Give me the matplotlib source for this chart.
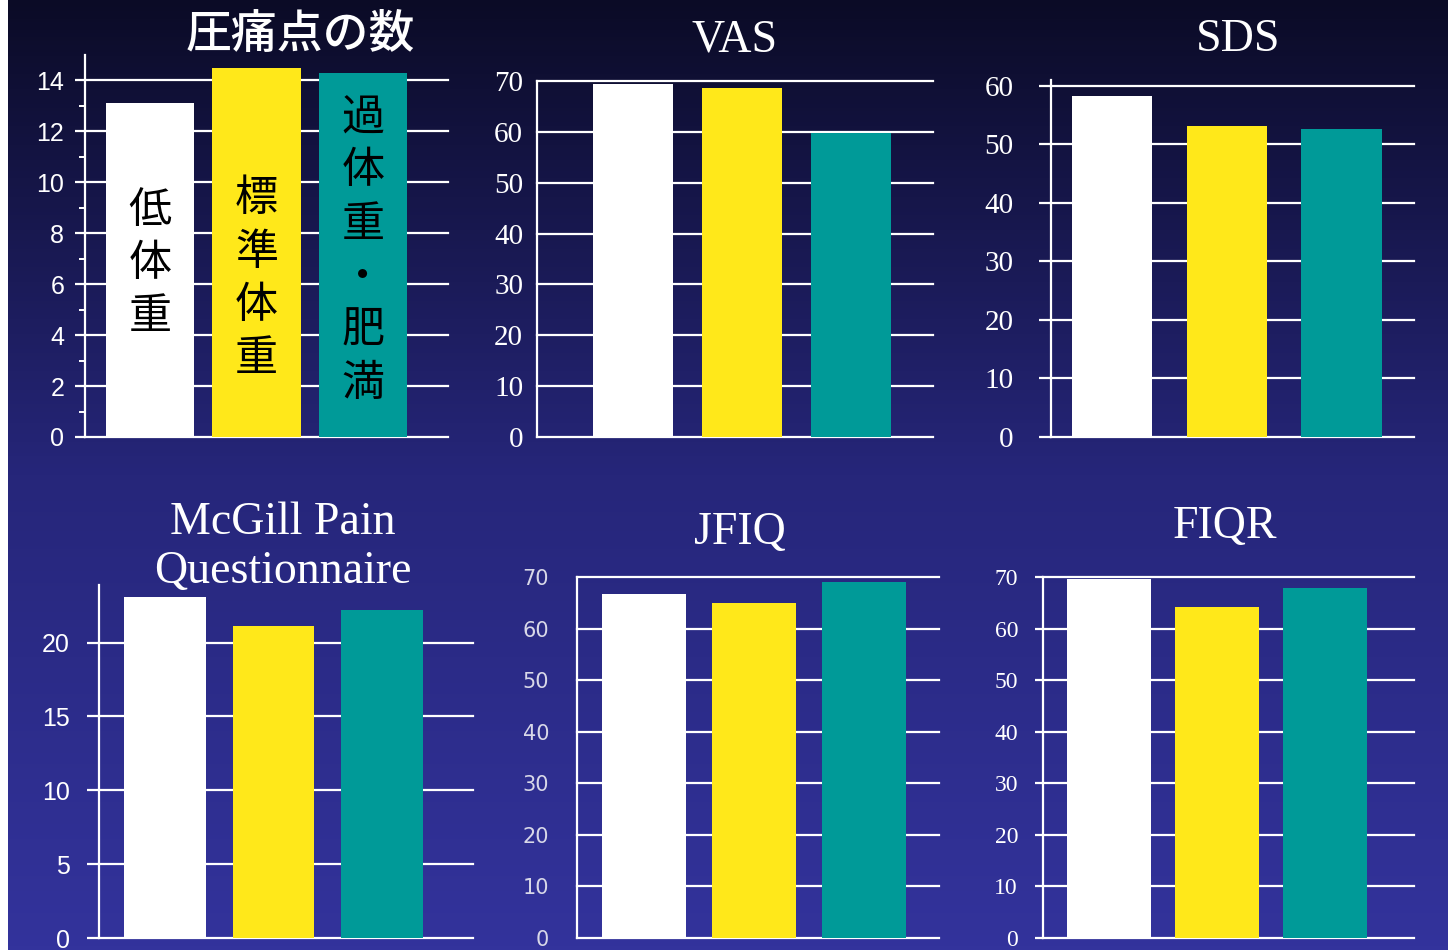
import numpy as np
import matplotlib
matplotlib.use("Agg")
import matplotlib.pyplot as plt
from matplotlib.colors import LinearSegmentedColormap

# data
groups = ["低体重", "標準体重", "過体重・肥満"]
tender_points = [13.1, 14.5, 14.3]
vas = [69.4, 68.6, 59.8]
sds = [58.3, 53.2, 52.6]
mcgill = [23.1, 21.1, 22.2]
jfiq = [66.7, 65.0, 69.0]
fiqr = [69.6, 64.2, 67.9]

bar_colors = ["#ffffff", "#ffe81a", "#009a98"]
W, H = 1455, 950

plt.rcParams["font.family"] = ["Liberation Sans", "Noto Sans CJK JP"]

fig = plt.figure(figsize=(W / 100, H / 100), dpi=100, facecolor="white")

# slide background: vertical gradient, thin white strips at the edges
bg = fig.add_axes([8 / W, 0, 1440 / W, 1], zorder=-10)
cmap = LinearSegmentedColormap.from_list(
    "slide", [(0, "#0b0b26"), (0.15, "#131340"), (0.5, "#26267a"), (1, "#33339c")])
bg.imshow(np.linspace(0, 1, 256).reshape(-1, 1), aspect="auto", cmap=cmap,
          extent=[0, 1, 1, 0])
bg.axis("off")


def px_rect(x0, x1, ytop, ybot):
    return [x0 / W, 1 - ybot / H, (x1 - x0) / W, (ybot - ytop) / H]


def panel(rect, values, ylim, ticks, xlim, width, tickfont, ticksize,
          tickcolor="white", ticklen=0, pad=10):
    ax = fig.add_axes(rect)
    ax.set_facecolor("none")
    x = np.arange(len(values))
    ax.bar(x, values, width=width, color=bar_colors, zorder=3)
    ax.set_xlim(*xlim)
    ax.set_ylim(*ylim)
    ax.set_yticks(ticks)
    ax.set_xticks([])
    ax.grid(axis="y", color="white", linewidth=1.6, zorder=1)
    ax.set_axisbelow(True)
    for line in ax.get_ygridlines():
        line.set_clip_on(False)
    for s in ["top", "right", "bottom"]:
        ax.spines[s].set_visible(False)
    ax.spines["left"].set_color("white")
    ax.spines["left"].set_linewidth(1.6)
    ax.tick_params(axis="y", colors="white", length=ticklen, width=1.6,
                   direction="out", pad=pad, labelcolor=tickcolor)
    for lab in ax.get_yticklabels():
        lab.set_fontfamily(tickfont)
        lab.set_fontsize(ticksize)
    return ax


serif = "Liberation Serif"

# 圧痛点の数
ax1 = panel(px_rect(85, 448, 55, 437), tender_points, (0, 15), range(0, 15, 2),
            (-0.61, 2.8), 0.83, "Liberation Sans", 18, ticklen=7, pad=8)
ax1.set_yticks(range(1, 15, 2), minor=True)
ax1.tick_params(axis="y", which="minor", colors="white", length=4, width=1.4)
fig.text(300 / W, 1 - 35 / H, "圧痛点の数", ha="center", va="center",
         color="white", fontsize=33, fontweight="medium",
         family=["Noto Sans CJK JP"])
label_y = [6.8, 6.2, 7.3]
for i, g in enumerate(groups):
    ax1.text(i, label_y[i], "\n".join(g), ha="center", va="center",
             fontsize=31, color="black", linespacing=1.27, zorder=5,
             family=["Noto Sans CJK JP"])

# VAS
panel(px_rect(537, 933, 81, 437), vas, (0, 70), range(0, 71, 10),
      (-0.88, 2.75), 0.73, serif, 21, pad=10)
fig.text(735 / W, 1 - 40 / H, "VAS", ha="center", va="center",
         color="white", fontsize=33, family=serif)

# SDS
panel(px_rect(1051, 1414, 80, 437), sds, (0, 61), range(0, 61, 10),
      (-0.53, 2.63), 0.70, serif, 21, ticklen=9, pad=18)
fig.text(1238 / W, 1 - 40 / H, "SDS", ha="center", va="center",
         color="white", fontsize=33, family=serif)

# McGill Pain Questionnaire
panel(px_rect(99, 473, 585, 938), mcgill, (0, 23.9), range(0, 21, 5),
      (-0.61, 2.84), 0.75, "Liberation Sans", 18, ticklen=9, pad=12)
fig.text(283 / W, 1 - 547 / H, "McGill Pain\nQuestionnaire", ha="center",
         va="center", color="white", fontsize=33, family=serif,
         linespacing=1.2)

# JFIQ
panel(px_rect(577, 939, 577, 938), jfiq, (0, 70), range(0, 71, 10),
      (-0.61, 2.68), 0.76, "DejaVu Sans", 15, tickcolor="#d8d8e8", pad=20)
fig.text(740 / W, 1 - 533 / H, "JFIQ", ha="center", va="center",
         color="white", fontsize=33, family=serif)

# FIQR
panel(px_rect(1043, 1414, 577, 938), fiqr, (0, 70), range(0, 71, 10),
      (-0.61, 2.82), 0.78, serif, 17, ticklen=6, pad=12)
fig.text(1225 / W, 1 - 527 / H, "FIQR", ha="center", va="center",
         color="white", fontsize=33, family=serif)

fig.savefig("out.png", dpi=100, facecolor=fig.get_facecolor())
